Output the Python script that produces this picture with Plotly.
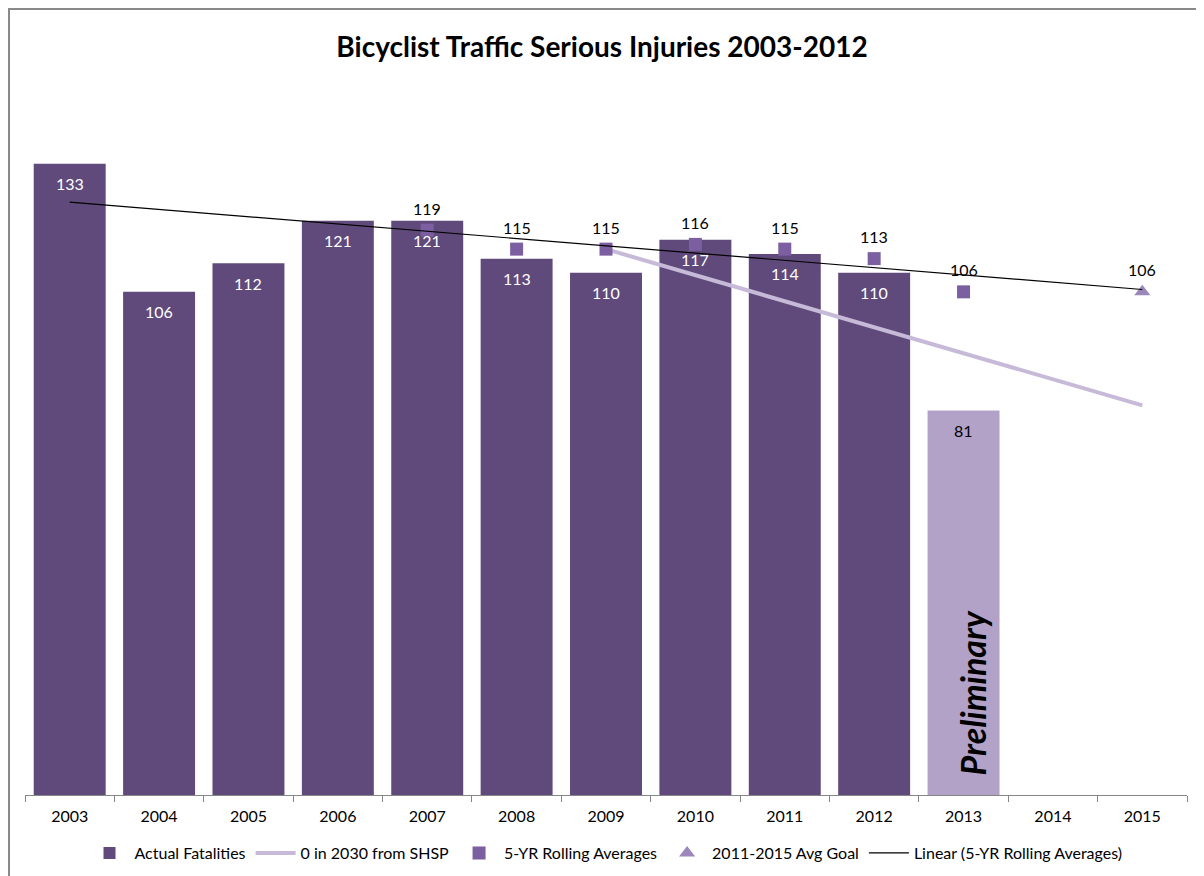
import plotly.graph_objects as go

years = ["2003", "2004", "2005", "2006", "2007", "2008", "2009", "2010",
         "2011", "2012", "2013", "2014", "2015"]

bar_years = ["2003", "2004", "2005", "2006", "2007", "2008", "2009", "2010",
             "2011", "2012", "2013"]
actual = [133, 106, 112, 121, 121, 113, 110, 117, 114, 110, 81]

shsp_years = ["2009", "2010", "2011", "2012", "2013", "2014", "2015"]
shsp_values = [115, 109.5, 104, 98.6, 93.1, 87.6, 82.1]

roll_years = ["2007", "2008", "2009", "2010", "2011", "2012", "2013"]
roll_values = [119, 115, 115, 116, 115, 113, 106]

goal_years = ["2015"]
goal_values = [106]

trend_years = ["2003", "2015"]
trend_values = [124.9, 106.5]

FONT = "Lato, 'Open Sans', sans-serif"
DARK = "#604A7B"
LIGHT = "#B3A2C7"

bar_colors = [DARK] * 10 + [LIGHT]
label_colors = ["white"] * 10 + ["black"]

W, H = 1188, 884
ML, MR, MT, MB = 17, 9, 75, 97


def idx(y):
    return years.index(y)


fig = go.Figure()

fig.add_trace(go.Bar(
    x=bar_years, y=actual, name="Actual Fatalities",
    marker=dict(color=bar_colors, line=dict(width=0)),
    hoverinfo="x+y",
))

fig.add_trace(go.Scatter(
    x=shsp_years, y=shsp_values, mode="lines", name="0 in 2030 from SHSP",
    line=dict(color="#C6BAD8", width=4),
))

fig.add_trace(go.Scatter(
    x=roll_years, y=roll_values, mode="markers", name="5-YR Rolling Averages",
    marker=dict(symbol="square", size=13, color="#7B5FA0"),
))

fig.add_trace(go.Scatter(
    x=goal_years, y=goal_values, mode="markers", name="2011-2015 Avg Goal",
    marker=dict(symbol="triangle-up", size=14, color="#9C87BC"),
))

fig.add_trace(go.Scatter(
    x=trend_years, y=trend_values, mode="lines",
    name="Linear (5-YR Rolling Averages)",
    line=dict(color="black", width=1.2),
))

annotations = []
for x, v, c in zip(bar_years, actual, label_colors):
    annotations.append(dict(x=idx(x), y=v, text=str(v), showarrow=False,
                            yshift=-20, font=dict(family=FONT, size=16, color=c)))
for x, v in zip(roll_years, roll_values):
    annotations.append(dict(x=idx(x), y=v, text=str(v), showarrow=False,
                            yshift=22, font=dict(family=FONT, size=16, color="black")))
for x, v in zip(goal_years, goal_values):
    annotations.append(dict(x=idx(x), y=v, text=str(v), showarrow=False,
                            yshift=22, font=dict(family=FONT, size=16, color="black")))
annotations.append(dict(x=idx("2013"), y=21.5, text="<b><i>Preliminary</i></b>",
                        showarrow=False, textangle=-90, xshift=9,
                        font=dict(family=FONT, size=34, color="black")))

plot_w = W - ML - MR
plot_h = H - MT - MB

fig.update_layout(
    width=W, height=H,
    margin=dict(l=ML, r=MR, t=MT, b=MB),
    paper_bgcolor="white", plot_bgcolor="white",
    font=dict(family=FONT, size=16, color="black"),
    title=dict(text="<b>Bicyclist Traffic Serious Injuries 2003-2012</b>",
               x=0.5, xanchor="center", y=1 - 39 / H, yanchor="middle",
               font=dict(family=FONT, size=28, color="black")),
    bargap=0.195,
    showlegend=True,
    legend=dict(orientation="h", x=0.5, xanchor="center", y=-58 / plot_h,
                yanchor="middle", font=dict(family=FONT, size=16),
                traceorder="normal", itemwidth=40),
    xaxis=dict(type="category", categoryorder="array", categoryarray=years,
               range=[-0.5, len(years) - 0.5],
               showline=True, linecolor="#868686", linewidth=1,
               ticks="outside", tickson="boundaries", ticklen=6,
               tickcolor="#868686", showgrid=False, tickangle=0,
               ticklabelstandoff=7,
               tickfont=dict(family=FONT, size=16, color="black")),
    yaxis=dict(range=[0, 150], visible=False, showgrid=False, zeroline=False),
    annotations=annotations,
    shapes=[dict(type="rect", xref="paper", yref="paper",
                 x0=(-ML + 1) / plot_w, x1=1.1,
                 y0=(plot_h + MT - 1) / plot_h, y1=-0.2,
                 line=dict(color="#8A8A8A", width=2), layer="below")],
)

fig.write_html("out.html")
